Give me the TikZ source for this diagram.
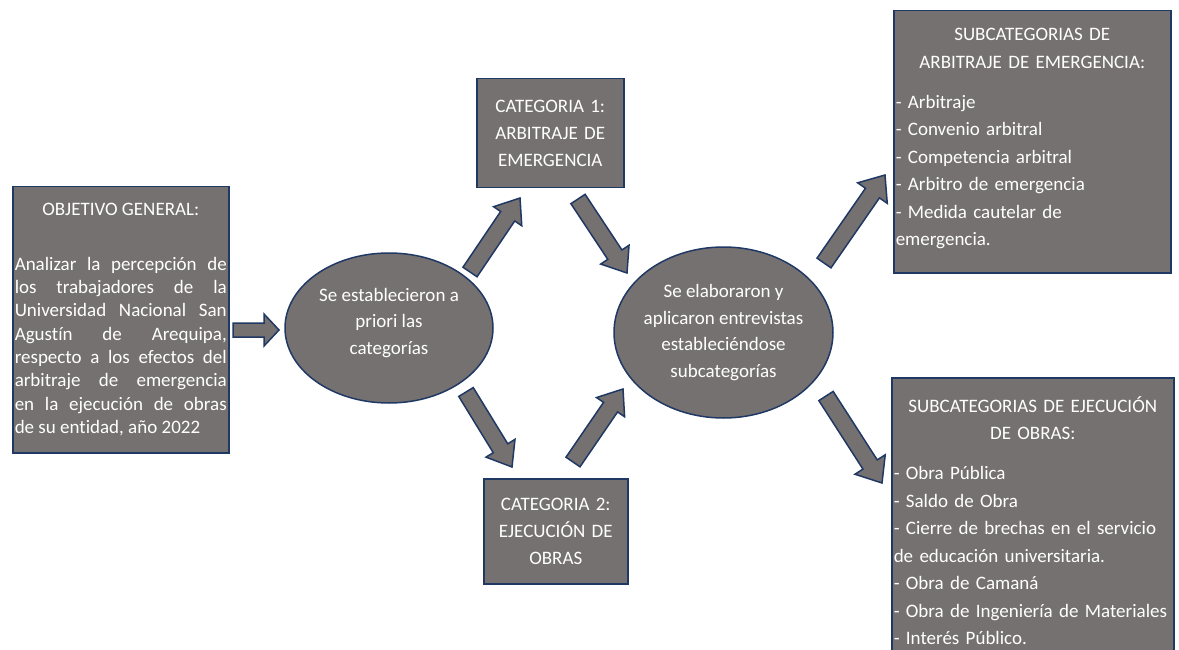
\documentclass[tikz,border=0pt]{standalone}
\usepackage{fontspec}
\setmainfont{Carlito}[Ligatures=NoCommon]
\usetikzlibrary{shapes.geometric,calc}
\definecolor{grisfondo}{HTML}{767171}
\definecolor{azulborde}{HTML}{1F3864}
\tikzset{
  caja/.style={draw=azulborde, fill=grisfondo, line width=1.5pt, text=white,
    inner xsep=2pt, inner ysep=0pt, anchor=north west},
  elipse/.style={ellipse, draw=azulborde, fill=grisfondo, line width=1.5pt},
  texto/.style={text=white, align=center, font=\fontsize{19}{26.7}\selectfont},
  flecha/.style={draw=azulborde, fill=grisfondo, line width=1.5pt, line join=miter},
}
% block arrow: from, to, half shaft, half head, head length
\newcommand{\flechabloque}[5]{%
  \coordinate (hb) at ($(#2)!#5!(#1)$);
  \draw[flecha] ($(#1)!#3!90:(#2)$) -- ($(hb)!#3!90:(#2)$) -- ($(hb)!#4!90:(#2)$) -- (#2)
    -- ($(hb)!#4!-90:(#2)$) -- ($(hb)!#3!-90:(#2)$) -- ($(#1)!#3!-90:(#2)$) -- cycle;
}
\begin{document}
\begin{tikzpicture}[x=1pt, y=-1pt]
  \useasboundingbox (0,0) rectangle (1179,650);
  \clip (0,0) rectangle (1179,650);

  \node[caja, minimum height=266pt, text width=212pt, align=justify,
        font=\fontsize{19}{23.3}\selectfont] (objetivo) at (12,186)
    {{\centering OBJETIVO GENERAL:\par}\vspace{31pt}
     Analizar la percepción de\linebreak los trabajadores de la\linebreak
     Universidad Nacional San\linebreak Agustín de Arequipa,\linebreak
     respecto a los efectos del\linebreak arbitraje de emergencia\linebreak
     en la ejecución de obras\linebreak de su entidad, año 2022};

  \node[elipse, minimum width=208pt, minimum height=150pt,
        label={[texto, yshift=5pt]center:Se establecieron a\\ priori las\\ categorías}]
    (establecer) at (389,328) {};

  \node[caja, texto, minimum height=109pt, text width=143pt] (cat1) at (476,78)
    {CATEGORIA 1:\\ ARBITRAJE DE\\ EMERGENCIA};
  \node[caja, texto, minimum height=105pt, text width=140pt] (cat2) at (483,478)
    {CATEGORIA 2:\\ EJECUCIÓN DE\\ OBRAS};

  \node[elipse, minimum width=219pt, minimum height=171pt,
        label={[texto]center:Se elaboraron y\\ aplicaron entrevistas\\ estableciéndose\\ subcategorías}]
    (elaborar) at (723.5,332.5) {};

  \node[caja, minimum height=262pt, text width=273pt, align=left,
        font=\fontsize{19}{27.5}\selectfont] (subarb) at (893,10)
    {{\centering SUBCATEGORIAS DE\\ ARBITRAJE DE EMERGENCIA:\par}\vspace{12.5pt}
     - Arbitraje\\
     - Convenio arbitral\\
     - Competencia arbitral\\
     - Arbitro de emergencia\\
     - Medida cautelar de\\
     emergencia.\par\vspace{6pt}};

  \node[caja, minimum height=286pt, text width=278pt, align=left,
        font=\fontsize{19}{27.5}\selectfont] (subobras) at (891,377)
    {{\centering SUBCATEGORIAS DE EJECUCIÓN\\ DE OBRAS:\par}\vspace{12.5pt}
     - Obra Pública\\
     - Saldo de Obra\\
     - Cierre de brechas en el servicio\\
     de educación universitaria.\\
     - Obra de Camaná\\
     - Obra de Ingeniería de Materiales\\
     - Interés Público.};

  % arrow ends
  \coordinate (ini0) at (233,330);   \coordinate (fin0) at (279,330);
  \coordinate (ini1) at (470,272);   \coordinate (fin1) at (520,198);
  \coordinate (ini2) at (578,199);   \coordinate (fin2) at (627,273);
  \coordinate (ini3) at (466,392);   \coordinate (fin3) at (512,467);
  \coordinate (ini4) at (573,462);   \coordinate (fin4) at (623,389);
  \coordinate (ini5) at (824,263);   \coordinate (fin5) at (885,175);
  \coordinate (ini6) at (826,396);   \coordinate (fin6) at (882,483);

  \flechabloque{ini0}{fin0}{7pt}{16pt}{15pt}
  \flechabloque{ini1}{fin1}{8.5pt}{17pt}{22pt}
  \flechabloque{ini2}{fin2}{8.5pt}{17pt}{22pt}
  \flechabloque{ini3}{fin3}{8.5pt}{17pt}{22pt}
  \flechabloque{ini4}{fin4}{8.5pt}{17pt}{22pt}
  \flechabloque{ini5}{fin5}{8.5pt}{18pt}{22pt}
  \flechabloque{ini6}{fin6}{8.5pt}{18pt}{22pt}
\end{tikzpicture}
\end{document}
